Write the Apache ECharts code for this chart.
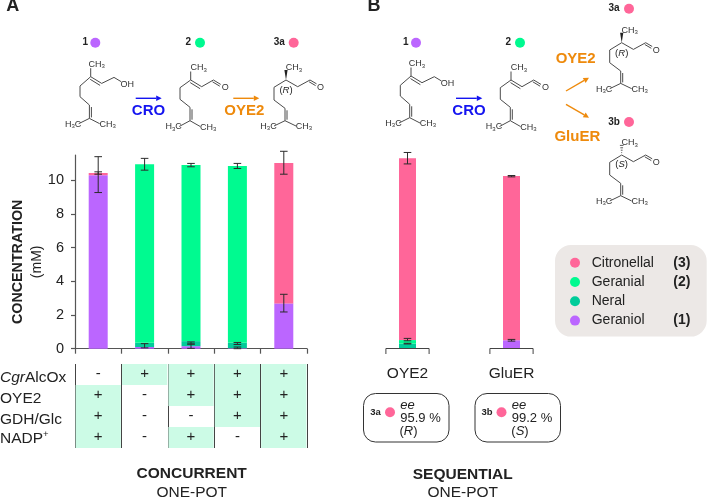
<!DOCTYPE html>
<html><head><meta charset="utf-8">
<style>html,body{margin:0;padding:0;background:#fff}#c{width:707px;height:499px}</style>
<script src="https://cdn.jsdelivr.net/npm/echarts@6/dist/echarts.min.js"></script>
</head><body><div id="c"></div>
<script>
// ---- data ----
const catsA = ['1','2','3','4','5'];
const geraniolA    = [10.30, 0.10, 0.15, 0.03, 2.69];
const neralA       = [0, 0.25, 0.30, 0.32, 0];
const geranialA    = [0, 10.60, 10.46, 10.50, 0];
const citronellalA = [0.13, 0, 0, 0, 8.34];
const errorsA = [[0,9.27,11.40],[0,10.36,10.50],[1,10.60,11.30],[1,0.05,0.30],[2,10.80,11.00],[2,0.28,0.40],[2,0.02,0.27],
                 [3,10.70,11.00],[3,0.25,0.37],[3,0,0.10],[4,10.36,11.72],[4,2.18,3.23]];
const catsB = ['OYE2','GluER'];
const geraniolB    = [0, 0.49];
const neralB       = [0.29, 0];
const geranialB    = [0.21, 0];
const citronellalB = [10.80, 9.76];
const errorsB = [[0,10.97,11.65],[0,0.46,0.60],[0,0.27,0.31],[1,10.20,10.28],[1,0.44,0.54]];
const rowLabels = ['{i|Cgr}{n|AlcOx}','{n|OYE2}','{n|GDH/Glc}','{m|NADP}{s|+}'];
const rowCgrAlcOx = ['-','+','+','+','+'];
const rowOYE2     = ['+','-','+','+','+'];
const rowGDHGlc   = ['+','-','-','+','+'];
const rowNADP     = ['+','-','+','-','+'];
const yTicks = [0,2,4,6,8,10];
const legendNames = ['Citronellal','Geranial','Neral','Geraniol'];
const legendNumbers = {Citronellal:'(3)',Geranial:'(2)',Neral:'',Geraniol:'(1)'};

// ---- styles ----
const FONT = '"Liberation Sans", Arial, sans-serif';
const C = {cit:'#ff6699',ger:'#00fa90',ner:'#00cc99',gol:'#bb66ff',blue:'#1414f0',orange:'#ee8a0c',ink:'#222',bond:'#4a4a4a',axis:'#555',cell:'#ccfbe6'};

function txt(text,x,y,o){o=o||{};
  return {type:'text',x:x,y:y,silent:true,rotation:o.rot||0,style:{text:text,fill:o.c||C.ink,align:o.align||'center',verticalAlign:'middle',
    font:(o.it?'italic ':'')+(o.b?'bold ':'')+(o.s||14)+'px '+FONT,rich:o.rich}};}
function dot(x,y,color,r){return {type:'circle',silent:true,shape:{cx:x,cy:y,r:r||5},style:{fill:color}};}
function line(a,b,w){return {type:'line',silent:true,shape:{x1:a[0],y1:a[1],x2:b[0],y2:b[1]},style:{stroke:C.bond,lineWidth:w||1}};}
function arrow(x1,y1,x2,y2,color){
  const L=Math.hypot(x2-x1,y2-y1),ux=(x2-x1)/L,uy=(y2-y1)/L,h=5.5,w=2.8;
  return [{type:'line',silent:true,shape:{x1:x1,y1:y1,x2:x2-ux*h,y2:y2-uy*h},style:{stroke:color,lineWidth:1.4}},
    {type:'polygon',silent:true,shape:{points:[[x2,y2],[x2-ux*h-uy*w,y2-uy*h+ux*w],[x2-ux*h+uy*w,y2-uy*h-ux*w]]},style:{fill:color}}];
}
const atomRich={n:{fontSize:9,fontFamily:FONT,color:'#333'},s:{fontSize:6,fontFamily:FONT,color:'#333',padding:[4,0,0,0]}};
function atom(t,x,y){return txt(t,x,y,{s:9,c:'#333',rich:atomRich});}
function mol(kind,x,y){
  const ch=[];
  let P;
  if(kind==='ol') P={c4:[-10.7,9.3],c5:[-10.7,20],c6:[-1.3,28.3],c7:[-1.3,41.7],m1:[-12,47],m2:[9,47],c2:[11,6.7],c1:[23.3,.7],o:[30.5,5]};
  else if(kind==='al') P={c4:[-10.7,7.7],c5:[-10.7,19.3],c6:[-.7,27.3],c7:[-.7,40.7],m1:[-11.5,46.5],m2:[9.5,46.5],c2:[11,6.7],c1:[22.7,0],o:[30,4.4]};
  else P={c4:[-12,7.3],c5:[-12,20],c6:[-1,28.3],c7:[-1,40.7],m1:[-12,46],m2:[10,46],c2:[11.7,6.7],c1:[24,0],o:[30.5,3.8]};
  const Z=[0,0];
  [[Z,P.c4],[P.c4,P.c5],[P.c5,P.c6],[P.c6,P.c7],[P.c7,P.m1],[P.c7,P.m2],[Z,P.c2],[P.c2,P.c1],[P.c1,P.o]].forEach(b=>ch.push(line(b[0],b[1])));
  ch.push(line([P.c6[0]+2,P.c6[1]+2],[P.c7[0]+2,P.c7[1]-1]));
  if(kind!=='r'&&kind!=='s') ch.push(line([-.5,2.6],[P.c2[0]-1.6,P.c2[1]+2]));
  if(kind!=='ol') ch.push(line([P.c1[0]-.9,P.c1[1]+1.8],[P.o[0]-.9,P.o[1]+1.8]));
  // methyl
  if(kind==='r') ch.push({type:'polygon',silent:true,shape:{points:[[0,0],[-1.6,-10],[1.6,-10]]},style:{fill:'#222'}});
  else if(kind==='s') for(let i=1;i<=4;i++){ch.push(line([-.45*i,-2.4*i],[.45*i,-2.4*i],.9));}
  else ch.push(line(Z,[0,-8.5]));
  ch.push(atom('{n|CH}{s|3}',kind==='ol'?6:8,-12));
  ch.push(atom('{n|H}{s|3}{n|C}',P.m1[0]-5.5,P.m1[1]+.5));
  ch.push(atom('{n|CH}{s|3}',P.m2[0]+8,P.m2[1]+.8));
  if(kind==='ol') ch.push(atom('{n|OH}',36.5,7.5)); else ch.push(atom('{n|O}',34.5,7.5));
  const stereo={fontSize:9.5,fontStyle:'italic',fontFamily:FONT,color:'#333'};
  if(kind==='r') ch.push(txt('{n|(}{i|R}{n|)}',0,10.8,{s:9.5,rich:{n:{fontSize:9.5,fontFamily:FONT,color:'#333'},i:stereo}}));
  if(kind==='s') ch.push(txt('{n|(}{i|S}{n|)}',0,9,{s:9.5,rich:{n:{fontSize:9.5,fontFamily:FONT,color:'#333'},i:stereo}}));
  return {type:'group',x:x,y:y,silent:true,children:ch};
}
function eeBox(x,label,val,stereoLetter,o){
  const rich={n:{fontSize:13,fontFamily:FONT,color:C.ink},i:{fontSize:13,fontStyle:'italic',fontFamily:FONT,color:C.ink}};
  return [{type:'rect',silent:true,shape:{x:x,y:393.5,width:85.5,height:48.5,r:12},style:{fill:'#fff',stroke:'#333',lineWidth:1}},
    txt(label,x+12,412.3,{b:true,s:9.5}),dot(x+26.5,412.3,C.cit,5),
    txt('ee',x+44,405,{it:true,s:13}),txt(val,x+57,418,{s:13}),
    txt('{n|(}{i|'+stereoLetter+'}{n|)}',x+45,431.3,{s:13,rich:rich})];
}

const elements=[
  txt('A',12.7,6,{b:true,s:18}),txt('B',374,6,{b:true,s:18}),
  // Panel A scheme
  txt('1',85.3,42.7,{b:true,s:10}),dot(95.3,42.7,C.gol),
  txt('2',188.3,42.7,{b:true,s:10}),dot(200,42.7,C.ger),
  txt('3a',279.3,42.7,{b:true,s:10}),dot(293.7,42.7,C.cit),
  mol('ol',90.7,76.7),mol('al',190.7,80),mol('r',286,80),
  ...arrow(135.7,98.3,161.7,98.3,C.blue),txt('CRO',148.5,110.7,{b:true,s:15,c:C.blue}),
  ...arrow(233.3,98.3,259.3,98.3,C.orange),txt('OYE2',244.3,111,{b:true,s:15,c:C.orange}),
  // Panel B scheme
  txt('1',405.7,42.7,{b:true,s:10}),dot(416,42.7,C.gol),
  txt('2',508.3,42.7,{b:true,s:10}),dot(520,42.7,C.ger),
  txt('3a',614,8.7,{b:true,s:10}),dot(629,8.7,C.cit),
  txt('3b',614,122.3,{b:true,s:10}),dot(629,122,C.cit),
  mol('ol',411,76),mol('al',511,80),mol('r',621.7,42.7),mol('s',621.7,155),
  ...arrow(456,98.3,482.3,98.3,C.blue),txt('CRO',469,110.7,{b:true,s:15,c:C.blue}),
  txt('OYE2',575.7,59.3,{b:true,s:15,c:C.orange}),txt('GluER',577.3,136.7,{b:true,s:15,c:C.orange}),
  ...arrow(566,91,589,77.7,C.orange),...arrow(566,104.3,589,117.7,C.orange),
  // ee boxes
  ...eeBox(363.5,'3a','95.9 %','R'),...eeBox(475,'3b','99.2 %','S'),
  // captions
  txt('CONCURRENT',191.7,474,{b:true,s:15.5}),txt('ONE-POT',191.7,492.7,{s:15.5}),
  txt('SEQUENTIAL',462.7,474.3,{b:true,s:15.5}),txt('ONE-POT',462.7,492.7,{s:15.5})
];

function errorItem(params,api){
  const i=api.value(0),lo=api.coord([i,api.value(1)]),hi=api.coord([i,api.value(2)]),w=3.8;
  const st={stroke:'#2b2b2b',lineWidth:1};
  return {type:'group',children:[
    {type:'line',shape:{x1:hi[0],y1:hi[1],x2:lo[0],y2:lo[1]},style:st},
    {type:'line',shape:{x1:hi[0]-w,y1:hi[1],x2:hi[0]+w,y2:hi[1]},style:st},
    {type:'line',shape:{x1:lo[0]-w,y1:lo[1],x2:lo[0]+w,y2:lo[1]},style:st}]};
}
function bracketItem(params,api){
  const p=api.coord([api.value(0),0]),h=21.6;
  return {type:'polyline',shape:{points:[[p[0]-h,p[1]+5.5],[p[0]-h,p[1]],[p[0]+h,p[1]],[p[0]+h,p[1]+5.5]]},style:{stroke:'#444',lineWidth:1,fill:null}};
}
function cellItem(params,api){
  const c=api.coord([api.value(0),api.value(1)]),s=api.size([1,1]),v=api.value(2);
  const ch=[];
  if(v==='+') ch.push({type:'rect',shape:{x:c[0]-s[0]/2+.6,y:c[1]-s[1]/2,width:s[0]-1.2,height:s[1]},style:{fill:C.cell}});
  ch.push({type:'text',x:c[0],y:c[1]-.5,style:{text:v,align:'center',verticalAlign:'middle',fill:C.ink,font:'15px '+FONT}});
  return {type:'group',children:ch};
}
const tableRows=[rowCgrAlcOx,rowOYE2,rowGDHGlc,rowNADP];
const tableData=[];
tableRows.forEach((r,ri)=>r.forEach((v,ci)=>tableData.push([ci,ri,v])));

function bar(name,data,color,gi,stack,w){
  return {type:'bar',name:name,data:data,stack:stack,xAxisIndex:gi,yAxisIndex:gi,barWidth:w,itemStyle:{color:color},silent:true,animation:false};
}
const axisLineStyle={color:C.axis,width:1.2};
const option={
  animation:false,
  textStyle:{fontFamily:FONT},
  grid:[
    {left:75,top:155,width:232,height:193.7,outerBoundsMode:'none'},
    {left:355.5,top:155,width:208,height:193.5,outerBoundsMode:'none'},
    {left:75,top:364,width:232,height:84,outerBoundsMode:'none'}
  ],
  xAxis:[
    {gridIndex:0,type:'category',data:catsA,axisLine:{lineStyle:axisLineStyle},axisTick:{show:true,length:5,alignWithLabel:false,lineStyle:axisLineStyle},axisLabel:{show:false}},
    {gridIndex:1,type:'category',data:catsB,axisLine:{show:false},axisTick:{show:false},axisLabel:{margin:17,fontSize:15.5,color:C.ink,fontFamily:FONT}},
    {gridIndex:2,type:'category',data:catsA,axisLine:{show:false},axisTick:{show:false},axisLabel:{show:false},splitLine:{show:true,lineStyle:{color:'#444',width:1}}}
  ],
  yAxis:[
    {gridIndex:0,type:'value',min:0,max:11.5,
      name:'{b|CONCENTRATION}\n{r|(mM)}',nameLocation:'middle',nameGap:27,nameRotate:90,
      nameTextStyle:{padding:[0,20,0,0],rich:{b:{fontSize:14.3,fontWeight:'bold',color:C.ink,fontFamily:FONT,lineHeight:19,align:'center'},r:{fontSize:14,color:C.ink,fontFamily:FONT,lineHeight:19,align:'center'}}},
      axisLine:{show:true,lineStyle:axisLineStyle},
      axisTick:{show:true,length:4,lineStyle:axisLineStyle,customValues:yTicks},
      axisLabel:{margin:11,fontSize:14.5,color:C.ink,fontFamily:FONT,customValues:yTicks},splitLine:{show:false}},
    {gridIndex:1,type:'value',min:0,max:11.5,show:false,splitLine:{show:false}},
    {gridIndex:2,type:'category',inverse:true,data:rowLabels,axisLine:{show:false},axisTick:{show:false},splitLine:{show:false},
      axisLabel:{align:'left',margin:75,fontSize:15.5,color:C.ink,fontFamily:FONT,
        rich:{n:{fontSize:15.5,color:C.ink,fontFamily:FONT,padding:[6,0,0,0]},m:{fontSize:15.5,color:C.ink,fontFamily:FONT,padding:[3,0,0,0]},i:{fontSize:15.5,fontStyle:'italic',color:C.ink,fontFamily:FONT,padding:[6,0,0,0]},s:{fontSize:9.5,color:C.ink,fontFamily:FONT,padding:[0,0,7,0]}}}}
  ],
  legend:{left:555,top:245,orient:'vertical',icon:'circle',itemWidth:10,itemHeight:10,itemGap:5.3,selectedMode:false,
    backgroundColor:'#ece8e6',borderRadius:16,padding:[10.7,13.4,9,15],
    data:legendNames,
    formatter:n=>'{n|'+n+'}{b|'+legendNumbers[n]+'}',
    textStyle:{rich:{n:{width:81.6,padding:[0,0,0,6.7],fontSize:14,color:C.ink,fontFamily:FONT,lineHeight:14},b:{width:20,fontSize:14,fontWeight:'bold',color:C.ink,fontFamily:FONT,lineHeight:14}}}},
  graphic:{elements:elements},
  color:[C.cit,C.ger,C.ner,C.gol],
  series:[
    bar('Geraniol',geraniolA,C.gol,0,'a',19),
    bar('Neral',neralA,C.ner,0,'a',19),
    bar('Geranial',geranialA,C.ger,0,'a',19),
    bar('Citronellal',citronellalA,C.cit,0,'a',19),
    bar('Geraniol',geraniolB,C.gol,1,'b',17),
    bar('Neral',neralB,C.ner,1,'b',17),
    bar('Geranial',geranialB,C.ger,1,'b',17),
    bar('Citronellal',citronellalB,C.cit,1,'b',17),
    {type:'custom',name:'errA',xAxisIndex:0,yAxisIndex:0,data:errorsA,renderItem:errorItem,z:5,silent:true,encode:{x:0,y:[1,2]}},
    {type:'custom',name:'errB',xAxisIndex:1,yAxisIndex:1,data:errorsB,renderItem:errorItem,z:5,silent:true,encode:{x:0,y:[1,2]}},
    {type:'custom',name:'brackets',xAxisIndex:1,yAxisIndex:1,data:[[0],[1]],renderItem:bracketItem,z:5,silent:true,clip:false,encode:{x:0}},
    {type:'custom',name:'table',xAxisIndex:2,yAxisIndex:2,data:tableData,renderItem:cellItem,silent:true,encode:{x:0,y:1}}
  ]
};
echarts.init(document.getElementById('c'),null,{renderer:'canvas'}).setOption(option);
</script></body></html>
